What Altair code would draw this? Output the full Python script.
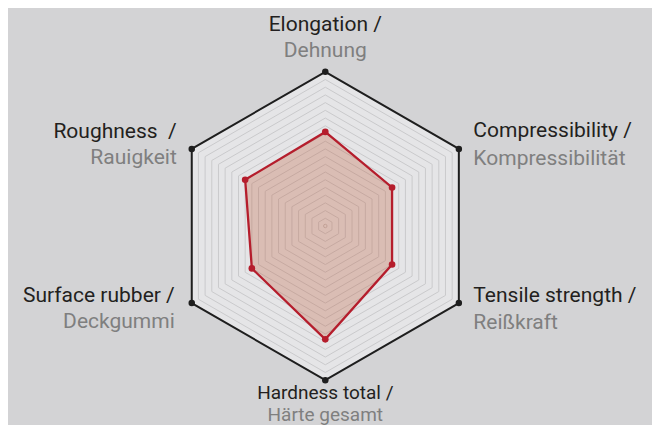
import altair as alt
import pandas as pd

# ---- data ----
labels_en = ["Elongation /", "Compressibility /", "Tensile strength /",
             "Hardness total /", "Surface rubber /", "Roughness\u00a0 /"]
labels_de = ["Dehnung", "Kompressibilität", "Reißkraft",
             "Härte gesamt", "Deckgummi", "Rauigkeit"]
values = [0.61, 0.50, 0.50, 0.735, 0.55, 0.60]
grid_levels = [0.05, 0.10, 0.15, 0.20, 0.25, 0.30, 0.35, 0.40, 0.45, 0.50,
               0.55, 0.60, 0.65, 0.70, 0.75, 0.80, 0.85, 0.90, 0.95]
outer_level = 1.0
center_level = [0.0]

axes_df = pd.DataFrame({"i": list(range(len(labels_en))), "en": labels_en,
                        "de": labels_de, "value": values, "outer": outer_level})
grid_df = pd.DataFrame([{"level": l, "i": i} for l in grid_levels
                        for i in range(len(labels_en))])
center_df = pd.DataFrame({"i": [0], "level": center_level})

W, H = 644, 417
xs = alt.Scale(domain=[-2.0577, 2.1187], nice=False, zero=False)
ys = alt.Scale(domain=[-1.2905, 1.4137], nice=False, zero=False)


def polar(chart, rfield):
    return chart.transform_calculate(
        px=f"datum['{rfield}'] * sin(datum.i * PI / 3)",
        py=f"datum['{rfield}'] * cos(datum.i * PI / 3)",
    )


def xy():
    return dict(x=alt.X("px:Q", scale=xs, axis=None),
                y=alt.Y("py:Q", scale=ys, axis=None),
                order=alt.Order("i:Q"))


base_axes = alt.Chart(axes_df)

hex_fill = polar(base_axes, "outer").mark_line(
    interpolate="linear-closed", fill="#e5e5e7", strokeWidth=0
).encode(**xy())

grid = polar(alt.Chart(grid_df), "level").mark_line(
    interpolate="linear-closed", stroke="#cacacc", strokeWidth=1
).encode(detail="level:N", **xy())

center_dot = polar(alt.Chart(center_df), "level").mark_point(
    size=12, color="#b8b0ad", strokeWidth=1
).encode(**xy())

outer = polar(base_axes, "outer").mark_line(
    interpolate="linear-closed", stroke="#1e1e1e", strokeWidth=2
).encode(**xy())

outer_dots = polar(base_axes, "outer").mark_circle(
    size=42, color="#1e1e1e", opacity=1
).encode(**xy())

red_area = polar(base_axes, "value").mark_line(
    interpolate="linear-closed", fill="#be5634", fillOpacity=0.28,
    stroke="#b51d2c", strokeWidth=2.3
).encode(**xy())

red_dots = polar(base_axes, "value").mark_circle(
    size=44, color="#b51d2c", opacity=1
).encode(**xy())

# label styles per axis: align, dx, dy(en), dy(de), font size
label_style = [
    ("center", 0, -41, -15, 21),
    ("left", 14.5, -11.7, 16, 21),
    ("left", 14.5, -1.3, 26.3, 21),
    ("center", 0, 18.5, 41, 19),
    ("right", -17, -1.3, 25.3, 21),
    ("right", -15, -11.3, 15.3, 21),
]

text_layers = []
for i, (align, dx, dy_en, dy_de, fs) in enumerate(label_style):
    src = polar(base_axes.transform_filter(f"datum.i == {i}"), "outer")
    text_layers.append(src.mark_text(
        align=align, baseline="alphabetic", dx=dx, dy=dy_en,
        font="Roboto", fontSize=fs, color="#231f20"
    ).encode(text="en:N", **xy()))
    text_layers.append(src.mark_text(
        align=align, baseline="alphabetic", dx=dx, dy=dy_de,
        font="Roboto", fontSize=fs, color="#7f7f7f"
    ).encode(text="de:N", **xy()))

chart = alt.layer(
    hex_fill, grid, center_dot, red_area, outer, outer_dots, red_dots,
    *text_layers
).properties(
    width=W, height=H, autosize=alt.AutoSizeParams(type="none"), padding=0,
    background="#d3d3d5"
).configure_view(strokeWidth=0)

chart.save("out.html", embed_options={"renderer": "svg", "actions": False})
